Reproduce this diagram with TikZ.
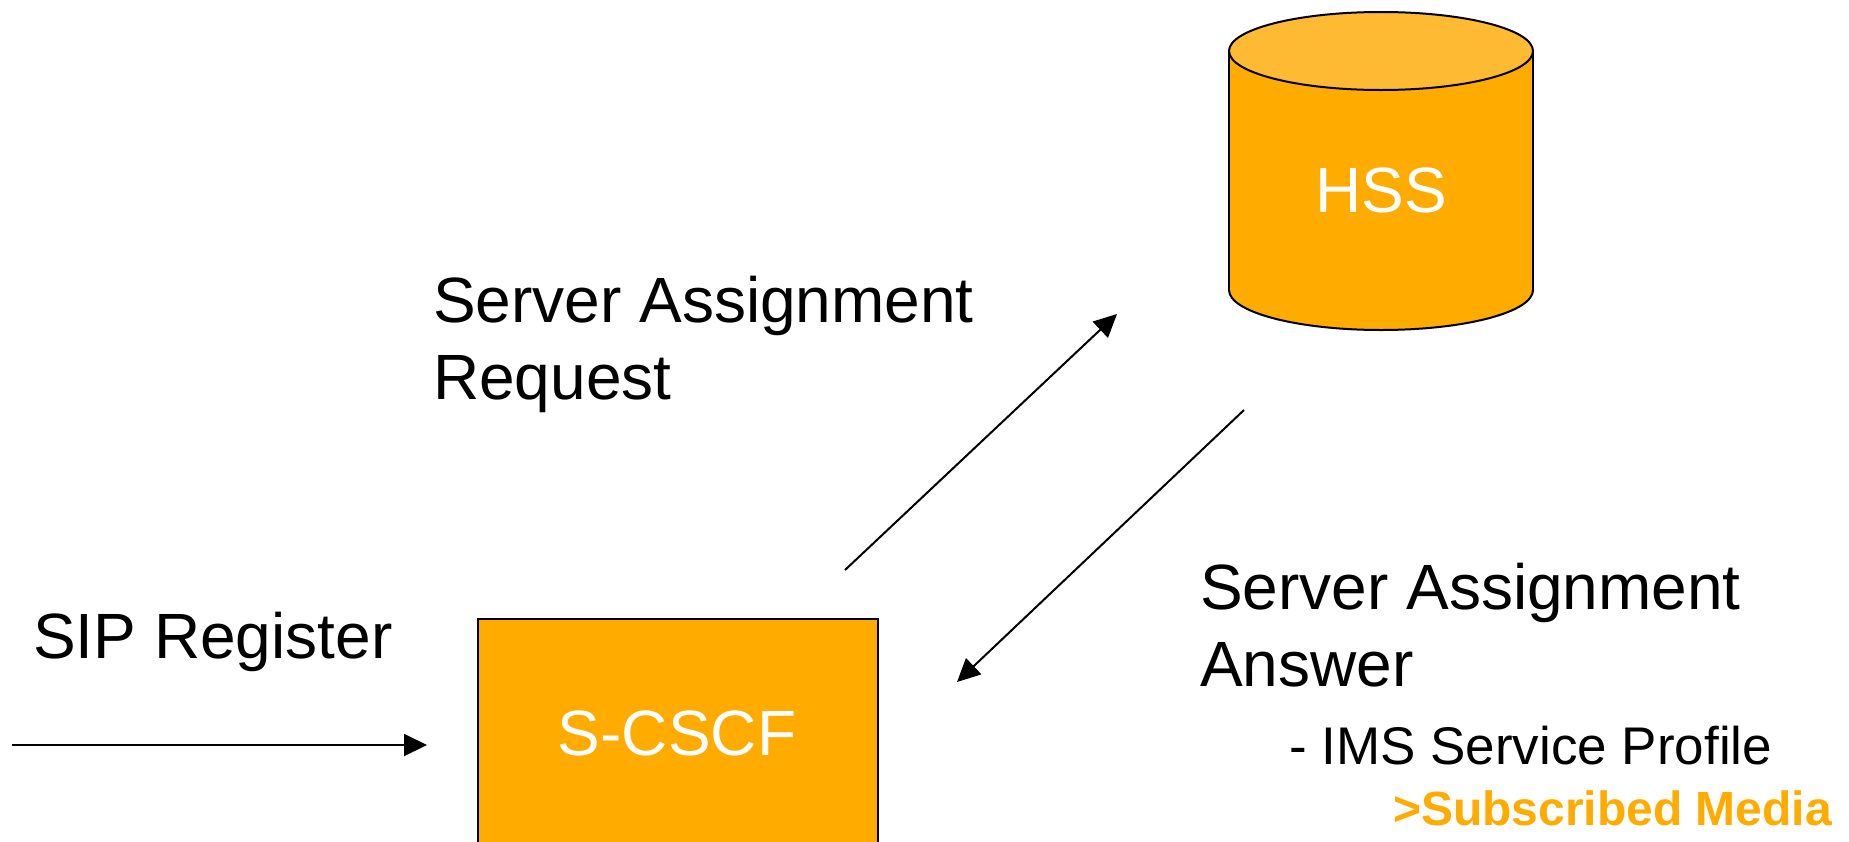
\documentclass[tikz,border=0pt]{standalone}
\usepackage{fontspec}
\setmainfont{Liberation Sans}
\usetikzlibrary{arrows.meta}
\definecolor{imsorange}{HTML}{FFAB00}
\definecolor{imstop}{HTML}{FFBA33}
\begin{document}
\begin{tikzpicture}[x=1pt,y=-1pt,
  lbl/.style={anchor=base west,inner sep=0pt,font=\fontsize{64}{77}\selectfont},
  sublbl/.style={anchor=base west,inner sep=0pt,font=\fontsize{53}{64}\selectfont},
  medialbl/.style={anchor=base west,inner sep=0pt,text=imsorange,font=\fontsize{48}{58}\selectfont\bfseries},
  boxtext/.style={inner sep=0pt,text=white,font=\fontsize{64}{77}\selectfont},
  msg/.style={line width=2pt,-{Triangle[length=23pt,width=22pt]}},
  outline/.style={line width=2pt,draw=black}]
\useasboundingbox (0,0) rectangle (1849,841);
\clip (0,0) rectangle (1849,841);
% HSS cylinder
\filldraw[outline,fill=imsorange] (1381,290) ellipse[x radius=152,y radius=40];
\fill[imsorange] (1230,51) rectangle (1532,290);
\draw[outline] (1229,51) -- (1229,290);
\draw[outline] (1533,51) -- (1533,290);
\filldraw[outline,fill=imstop] (1381,51) ellipse[x radius=152,y radius=39];
\node[boxtext] (hss) at (1381,190) {HSS};
% S-CSCF box
\node[outline,fill=imsorange,rectangle,minimum width=400pt,minimum height=300pt,anchor=north west,inner sep=0pt] (scscf) at (477,618) {};
\node[boxtext] (scscftext) at (677,733) {S-CSCF};
% labels
\node[lbl] (reqA) at (433,322) {Server Assignment};
\node[lbl] (reqB) at (433,399) {Request};
\node[lbl] (sip) at (33,658) {SIP Register};
\node[lbl] (ansA) at (1200,609) {Server Assignment};
\node[lbl] (ansB) at (1200,686) {Answer};
\node[sublbl] (prof) at (1289,764) {- IMS Service Profile};
\node[medialbl] (media) at (1393,825) {>Subscribed Media};
% connectors
\coordinate (sarA) at (845,570);
\coordinate (sarB) at (1117,314);
\coordinate (saaA) at (1244,410);
\coordinate (saaB) at (957,682);
\coordinate (sipA) at (12,745);
\coordinate (sipB) at (427,745);
\draw[msg] (sarA) -- (sarB);
\draw[msg] (saaA) -- (saaB);
\draw[msg] (sipA) -- (sipB);
\end{tikzpicture}
\end{document}
